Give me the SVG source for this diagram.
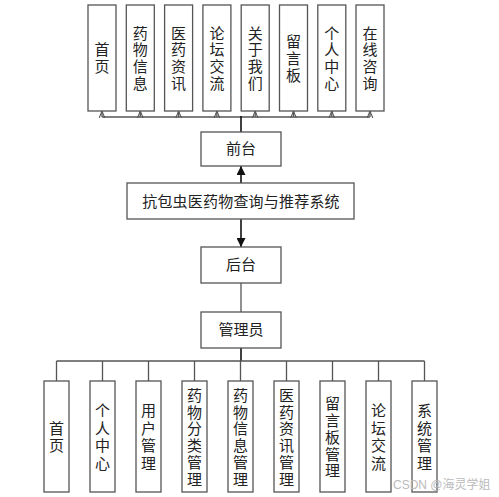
<svg xmlns="http://www.w3.org/2000/svg" width="499" height="497" viewBox="0 0 499 497">
<defs>
<style>
.box{fill:#fff;stroke:#555;stroke-width:1.3}
.ln{fill:none;stroke:#555;stroke-width:1.3}
.dk{fill:none;stroke:#111;stroke-width:1.6}
.t{font-family:"Noto Sans CJK SC","Noto Sans",sans-serif;font-size:15px;fill:#222;text-anchor:middle}
.v{font-family:"Noto Sans CJK SC","Noto Sans",sans-serif;font-size:15px;fill:#222;text-anchor:middle;writing-mode:vertical-rl;text-orientation:upright;letter-spacing:1.8px}
.vb{letter-spacing:2.5px}
.wm{font-family:"Liberation Sans","Noto Sans CJK SC",sans-serif;font-size:12px;fill:#bbb}
</style>
<marker id="open" viewBox="0 0 10 10" refX="10" refY="5" markerWidth="7" markerHeight="7" orient="auto" markerUnits="userSpaceOnUse">
<path d="M0,1 L10,5 L0,9" fill="none" stroke="#555" stroke-width="1.5"/>
</marker>
<marker id="fill" viewBox="0 0 10 10" refX="10" refY="5" markerWidth="9" markerHeight="9" orient="auto" markerUnits="userSpaceOnUse">
<path d="M0,0 L10,5 L0,10 Z" fill="#111"/>
</marker>
</defs>
<rect width="499" height="497" fill="#fff"/>
<g id="connectors">
<line class="ln" x1="102" y1="117" x2="370" y2="117"/>
<line class="ln" x1="102" y1="117" x2="102" y2="111" marker-end="url(#open)"/>
<line class="ln" x1="140.3" y1="117" x2="140.3" y2="111" marker-end="url(#open)"/>
<line class="ln" x1="178.6" y1="117" x2="178.6" y2="111" marker-end="url(#open)"/>
<line class="ln" x1="216.9" y1="117" x2="216.9" y2="111" marker-end="url(#open)"/>
<line class="ln" x1="255.2" y1="117" x2="255.2" y2="111" marker-end="url(#open)"/>
<line class="ln" x1="293.5" y1="117" x2="293.5" y2="111" marker-end="url(#open)"/>
<line class="ln" x1="331.8" y1="117" x2="331.8" y2="111" marker-end="url(#open)"/>
<line class="ln" x1="370" y1="117" x2="370" y2="111" marker-end="url(#open)"/>
<line class="dk" x1="241" y1="116" x2="241" y2="132"/>
<line class="dk" x1="241" y1="183" x2="241" y2="166" marker-end="url(#fill)"/>
<line class="dk" x1="241" y1="219" x2="241" y2="247" marker-end="url(#fill)"/>
<line class="ln" x1="241" y1="283" x2="241" y2="312"/>
<line class="dk" x1="241" y1="348" x2="241" y2="361"/>
<line class="ln" x1="56.5" y1="361" x2="424.5" y2="361"/>
<line class="ln" x1="56.5" y1="361" x2="56.5" y2="381"/>
<line class="ln" x1="102.5" y1="361" x2="102.5" y2="381"/>
<line class="ln" x1="148.5" y1="361" x2="148.5" y2="381"/>
<line class="ln" x1="194.5" y1="361" x2="194.5" y2="381"/>
<line class="ln" x1="240.5" y1="361" x2="240.5" y2="381"/>
<line class="ln" x1="286.5" y1="361" x2="286.5" y2="381"/>
<line class="ln" x1="332.5" y1="361" x2="332.5" y2="381"/>
<line class="ln" x1="378.5" y1="361" x2="378.5" y2="381"/>
<line class="ln" x1="424.5" y1="361" x2="424.5" y2="381"/>
</g>
<g id="top-shouye"><rect class="box" x="88" y="5" width="28" height="106"/><text class="v" x="102" y="59">首页</text></g>
<g id="top-yaowu"><rect class="box" x="126.3" y="5" width="28" height="106"/><text class="v" x="140.3" y="59">药物信息</text></g>
<g id="top-zixun"><rect class="box" x="164.6" y="5" width="28" height="106"/><text class="v" x="178.6" y="59">医药资讯</text></g>
<g id="top-luntan"><rect class="box" x="202.9" y="5" width="28" height="106"/><text class="v" x="216.9" y="59">论坛交流</text></g>
<g id="top-guanyu"><rect class="box" x="241.2" y="5" width="28" height="106"/><text class="v" x="255.2" y="59">关于我们</text></g>
<g id="top-liuyan"><rect class="box" x="279.5" y="5" width="28" height="106"/><text class="v" x="293.5" y="59">留言板</text></g>
<g id="top-geren"><rect class="box" x="317.8" y="5" width="28" height="106"/><text class="v" x="331.8" y="59">个人中心</text></g>
<g id="top-zaixian"><rect class="box" x="356" y="5" width="28" height="106"/><text class="v" x="370" y="59">在线咨询</text></g>
<g id="qiantai"><rect class="box" x="201" y="132" width="80" height="34"/><text class="t" x="241" y="154">前台</text></g>
<g id="system"><rect class="box" x="127" y="183" width="227" height="36"/><text class="t" x="241" y="207" style="letter-spacing:0.2px">抗包虫医药物查询与推荐系统</text></g>
<g id="houtai"><rect class="box" x="201" y="247" width="80" height="36"/><text class="t" x="241" y="270">后台</text></g>
<g id="admin"><rect class="box" x="201" y="312" width="80" height="36"/><text class="t" x="241" y="335">管理员</text></g>
<g id="b-shouye"><rect class="box" x="44" y="381" width="25" height="111"/><text class="v vb" x="56.5" y="438">首页</text></g>
<g id="b-geren"><rect class="box" x="90" y="381" width="25" height="111"/><text class="v vb" x="102.5" y="438">个人中心</text></g>
<g id="b-yonghu"><rect class="box" x="136" y="381" width="25" height="111"/><text class="v vb" x="148.5" y="438">用户管理</text></g>
<g id="b-fenlei"><rect class="box" x="182" y="381" width="25" height="111"/><text class="v" x="194.5" y="438">药物分类管理</text></g>
<g id="b-xinxi"><rect class="box" x="228" y="381" width="25" height="111"/><text class="v" x="240.5" y="438">药物信息管理</text></g>
<g id="b-zixun"><rect class="box" x="274" y="381" width="25" height="111"/><text class="v" x="286.5" y="438">医药资讯管理</text></g>
<g id="b-liuyan"><rect class="box" x="320" y="381" width="25" height="111"/><text class="v" x="332.5" y="438">留言板管理</text></g>
<g id="b-luntan"><rect class="box" x="366" y="381" width="25" height="111"/><text class="v vb" x="378.5" y="438">论坛交流</text></g>
<g id="b-xitong"><rect class="box" x="412" y="381" width="25" height="111"/><text class="v vb" x="424.5" y="438">系统管理</text></g>
<text class="wm" x="393" y="489">CSDN @海灵学姐</text>
</svg>
